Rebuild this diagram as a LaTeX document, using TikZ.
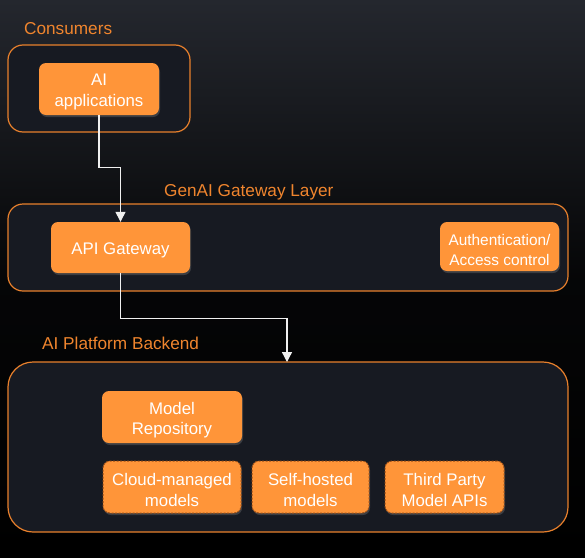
\documentclass[tikz,border=0pt]{standalone}
\usepackage{fontspec}
\setmainfont{Liberation Sans}
\usetikzlibrary{arrows.meta,shadows}
\definecolor{boxfill}{HTML}{FF9539}
\definecolor{edgeor}{HTML}{E8802C}
\definecolor{labelor}{HTML}{F0852E}
\definecolor{contfill}{HTML}{171A22}
\definecolor{dashor}{HTML}{9E5018}
\definecolor{bgleft}{HTML}{24272E}
\tikzset{
  container/.style={draw=edgeor, line width=1.2pt, fill=contfill, rounded corners=#1, inner sep=0pt},
  container/.default=15pt,
  obox/.style={fill=boxfill, rounded corners=7pt, inner sep=0pt,
    drop shadow={opacity=0.35, shadow xshift=1pt, shadow yshift=-2pt}},
  boxtext/.style={text=white, align=center, inner sep=0pt, yshift=-3pt,
    font=\fontsize{16.8}{20.5}\selectfont},
  dbox/.style={obox, draw=dashor, line width=1pt, dash pattern=on 2pt off 1.5pt},
  grouplabel/.style={text=labelor, anchor=west, inner sep=0pt, font=\fontsize{17.2}{20}\selectfont},
  conn/.style={draw=white!88!gray, line width=1.3pt, -{Triangle[width=10pt,length=10pt]}}
}
\begin{document}
\begin{tikzpicture}[x=1pt,y=-1pt]
\useasboundingbox (0,0) rectangle (585,557);
\shade[left color=bgleft, right color=black, middle color=black!85!bgleft, shading angle=0] (0,0) rectangle (585,557);
% containers
\node[container, minimum width=182pt, minimum height=87pt] (cons) at (99,88.5) {};
\node[container, minimum width=560pt, minimum height=87pt] (gw) at (288,247.5) {};
\node[container=25pt, minimum width=560pt, minimum height=170pt] (backend) at (288,447) {};
% labels
\node[grouplabel] (lcons) at (24,28.5) {Consumers};
\node[grouplabel] (lgw) at (164,192.5) {GenAI Gateway Layer};
\node[grouplabel] (lbe) at (42,343) {AI Platform Backend};
% boxes
\node[obox, minimum width=120pt, minimum height=52pt, label={[boxtext]center:{AI\\applications}}] (app) at (99,89) {};
\node[obox, minimum width=139pt, minimum height=51pt, label={[boxtext]center:{API Gateway}}] (api) at (120.5,247.5) {};
\node[obox, minimum width=119pt, minimum height=49pt, label={[boxtext, font=\fontsize{15.4}{20}\selectfont]center:{Authentication/\\Access control}}] (auth) at (499.5,246.5) {};
\node[obox, minimum width=140pt, minimum height=52pt, label={[boxtext]center:{Model\\Repository}}] (repo) at (172,417) {};
\node[dbox, minimum width=138pt, minimum height=52pt, label={[boxtext]center:{Cloud-managed\\models}}] (cloud) at (172,487) {};
\node[dbox, minimum width=117pt, minimum height=52pt, label={[boxtext]center:{Self-hosted\\models}}] (self) at (310.5,487) {};
\node[dbox, minimum width=119pt, minimum height=52pt, label={[boxtext]center:{Third Party\\Model APIs}}] (third) at (444.5,487) {};
% connectors
\coordinate (bt) at (287,362);
\draw[conn] (app.south) -- ++(0,52.5) -| (api.north);
\draw[conn] (api.south) -- ++(0,45) -| (bt);
\end{tikzpicture}
\end{document}
